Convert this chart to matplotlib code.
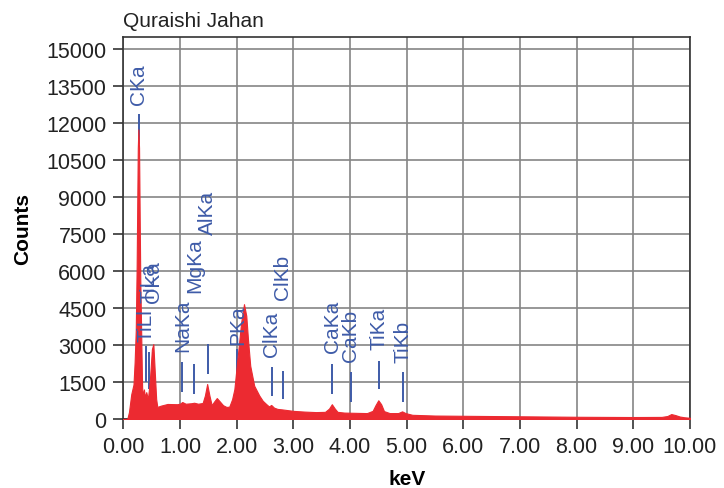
import numpy as np
import matplotlib.pyplot as plt

plt.rcParams['font.family'] = ['Liberation Sans', 'DejaVu Sans']

# EDS spectrum (keV, counts)
kev = [0.00, 0.07, 0.10, 0.14, 0.18, 0.20, 0.22, 0.236, 0.247, 0.256, 0.266,
       0.278, 0.290, 0.300, 0.312, 0.322, 0.332, 0.345, 0.365, 0.380, 0.405,
       0.435, 0.470, 0.505, 0.530, 0.550, 0.580, 0.600, 0.660, 0.780, 0.950,
       1.00, 1.04, 1.10, 1.20, 1.25, 1.32, 1.40, 1.44, 1.48, 1.52, 1.56,
       1.60, 1.65, 1.70, 1.76, 1.82, 1.87, 1.92, 1.96, 2.02, 2.08, 2.13,
       2.17, 2.20, 2.24, 2.31, 2.40, 2.46, 2.52, 2.57, 2.61, 2.66, 2.72,
       2.80, 2.90, 3.00, 3.20, 3.40, 3.56, 3.63, 3.68, 3.73, 3.78, 3.90,
       4.10, 4.30, 4.40, 4.45, 4.50, 4.55, 4.60, 4.70, 4.85, 4.92, 4.98,
       5.10, 5.50, 6.00, 6.50, 7.00, 7.50, 8.00, 8.50, 9.00, 9.50, 9.60,
       9.67, 9.74, 9.82, 9.90, 10.00]
counts = [0, 0, 280, 1000, 1400, 2300, 3600, 6200, 8900, 11000, 11750,
          11000, 8000, 5600, 4000, 2600, 1300, 950, 1200, 890, 1090,
          810, 1620, 2840, 3040, 2150, 810, 490, 540, 610, 600,
          620, 690, 620, 640, 660, 620, 650, 950, 1420, 950, 560,
          700, 850, 720, 560, 490, 500, 800, 1210, 2570, 3920, 4660,
          4190, 3240, 2160, 1350, 950, 740, 610, 510, 570, 460, 410,
          390, 360, 330, 300, 280, 290, 420, 600, 430, 290, 260,
          250, 240, 330, 560, 760, 600, 320, 240, 240, 310, 240,
          170, 140, 130, 120, 110, 100, 90, 85, 80, 85, 120,
          200, 160, 100, 70, 50]

# peak markers: energy, marker line bottom/top, label bottom (counts)
peak_names = ['CKa', 'TiLl', 'TiLa', 'OKa', 'NaKa', 'MgKa', 'AlKa', 'PKa',
              'ClKa', 'ClKb', 'CaKa', 'CaKb', 'TiKa', 'TiKb']
peak_kev = [0.277, 0.395, 0.452, 0.525, 1.041, 1.253, 1.486, 2.013,
            2.622, 2.815, 3.690, 4.012, 4.508, 4.931]
line_lo = [11150, 1500, 1216, 1216, 1095, 1014, 1824, 1622,
           932, 811, 1014, 689, 1216, 689]
line_hi = [12365, 2960, 2716, 2716, 2311, 2230, 3040, 2838,
           2108, 1946, 2230, 1905, 2351, 1905]
label_at = [12770, 3160, 4740, 4740, 2757, 5149, 7500, 3040,
            2554, 4865, 2716, 2351, 2838, 2311]

red = '#ec2a31'
blue = '#3e5ba8'

fig = plt.figure(figsize=(7.24, 4.89), dpi=100)
ax = fig.add_axes([0.1703, 0.1411, 0.7827, 0.7812])

ax.fill_between(kev, counts, 0, color=red, lw=0.8, zorder=3)
ax.vlines(peak_kev, line_lo, line_hi, color=blue, lw=1.4, zorder=2)
for name, x, t in zip(peak_names, peak_kev, label_at):
    ax.text(x, t, name, rotation=90, ha='center', va='bottom',
            color=blue, fontsize=15, zorder=4)

ax.set_xlim(0, 10)
ax.set_ylim(0, 15500)
ax.set_xticks(np.arange(0, 11, 1))
ax.set_xticklabels([f'{v:.2f}' for v in range(11)])
ax.set_yticks(np.arange(0, 15001, 1500))
ax.grid(True, color='#858585', lw=1.2, zorder=0)
ax.set_axisbelow(True)
for s in ax.spines.values():
    s.set_color('#333333')
    s.set_linewidth(1.2)
ax.tick_params(direction='out', length=7, width=1.2, colors='#333333',
               labelcolor='#222222', labelsize=15.5, pad=5)

ax.set_xlabel('keV', fontsize=15, fontweight='bold', labelpad=9)
ax.set_ylabel('Counts', fontsize=15, fontweight='bold', labelpad=10)
fig.text(123 / 724, 0.945, 'Quraishi Jahan', fontsize=15, color='#222222',
         ha='left', va='baseline')

fig.savefig('out.png', dpi=100)
